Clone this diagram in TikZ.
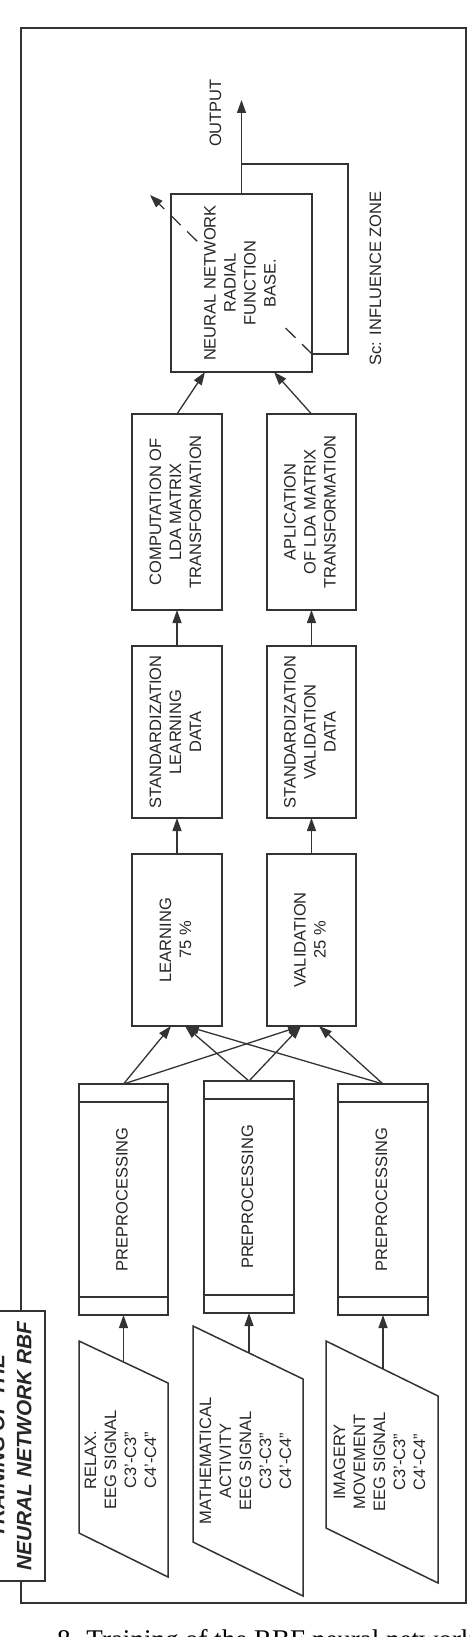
\documentclass[tikz,border=0pt]{standalone}
\usepackage{fontspec}
\setmainfont{Liberation Sans}
\newfontfamily\capfont{Liberation Serif}
\usepackage{graphicx}
\usetikzlibrary{calc,arrows.meta}
\newcommand{\vtext}[1]{\rotatebox{90}{\begin{tabular}{@{}c@{}}#1\end{tabular}}}
\tikzset{
  blk/.style={draw=black!80, line width=1.5pt, fill=white, outer sep=0pt, inner sep=0pt, text=black!85},
  arr/.style={draw=black!80, line width=1.3pt, -{Triangle[length=13pt,width=9pt]}},
  txt/.style={text=black!85, inner sep=0pt},
  edge/.style={draw=black!80, line width=1.5pt}
}

\begin{document}
\begin{tikzpicture}[x=1pt, y=-1pt, font=\fontsize{16.5}{20}\selectfont]
        \useasboundingbox (0,0) rectangle (469,1637);
        \clip (0,0) rectangle (469,1637);

        \draw[edge] (21,28) rectangle (466,1603);
        \node[blk, minimum width=65pt, minimum height=270pt, font=\bfseries\itshape\fontsize{20.8}{27}\selectfont] (title) at (12.5,1446) {\vtext{TRAINING OF THE\\NEURAL NETWORK RBF}};

        % input signals
        \draw[edge] (79,1341) -- (168,1383) -- (168,1577) -- (79,1533) -- cycle;
        \draw[edge] (193,1326) -- (303,1379) -- (303,1596) -- (193,1542) -- cycle;
        \draw[edge] (326,1341) -- (438,1396) -- (438,1583) -- (326,1528) -- cycle;
        \node[txt] (in1) at (122,1460) {\vtext{RELAX.\\EEG SIGNAL\\C3'-C3''\\C4'-C4''}};
        \node[txt] (in2) at (247,1461) {\vtext{MATHEMATICAL\\ACTIVITY\\EEG SIGNAL\\C3'-C3''\\C4'-C4''}};
        \node[txt] (in3) at (381,1462) {\vtext{IMAGERY\\MOVEMENT\\EEG SIGNAL\\C3'-C3''\\C4'-C4''}};
        \coordinate (s1) at (123.5,1362);
        \coordinate (s2) at (249,1352.5);
        \coordinate (s3) at (383,1369);

        \node[blk, minimum width=89pt, minimum height=231pt] (pre1) at (123.5,1199.5) {\vtext{PREPROCESSING}};
        \node[blk, minimum width=90pt, minimum height=232pt] (pre2) at (249,1197) {\vtext{PREPROCESSING}};
        \node[blk, minimum width=90pt, minimum height=231pt] (pre3) at (383,1199.5) {\vtext{PREPROCESSING}};
        \foreach \p in {pre1,pre2,pre3} {
          \draw[edge] ($(\p.north west)+(0,18)$) -- ($(\p.north east)+(0,18)$);
          \draw[edge] ($(\p.south west)+(0,-18)$) -- ($(\p.south east)+(0,-18)$);
        }

        \node[blk, minimum width=90pt, minimum height=172pt] (learn) at (177,940) {\vtext{LEARNING\\75 \%}};
        \node[blk, minimum width=89pt, minimum height=172pt] (valid) at (311.5,940) {\vtext{VALIDATION\\25 \%}};
        \node[blk, minimum width=90pt, minimum height=172pt] (stdl) at (177,732) {\vtext{STANDARDIZATION\\LEARNING\\DATA}};
        \node[blk, minimum width=89pt, minimum height=172pt] (stdv) at (311.5,732) {\vtext{STANDARDIZATION\\VALIDATION\\DATA}};
        \node[blk, minimum width=90pt, minimum height=196pt] (ldal) at (177,512) {\vtext{COMPUTATION OF\\LDA MATRIX\\TRANSFORMATION}};
        \node[blk, minimum width=89pt, minimum height=196pt] (ldav) at (311.5,512) {\vtext{APLICATION\\OF LDA MATRIX\\TRANSFORMATION}};
        \node[blk, minimum width=141pt, minimum height=178pt] (nn) at (241.5,283) {};

        \draw[arr] (s1) -- (pre1.south);
        \draw[arr] (s2) -- (pre2.south);
        \draw[arr] (s3) -- (pre3.south);

        \draw[arr] (pre1.north) -- ($(learn.south)+(-6,0)$);
        \draw[arr] (pre1.north) -- ($(valid.south)+(-10.5,0)$);
        \draw[arr] (pre2.north) -- ($(learn.south)+(8,0)$);
        \draw[arr] (pre2.north) -- ($(valid.south)+(-10.5,0)$);
        \draw[arr] (pre3.north) -- ($(learn.south)+(9,0)$);
        \draw[arr] (pre3.north) -- ($(valid.south)+(7.5,0)$);

        \draw[arr] (learn) -- (stdl);
        \draw[arr] (valid) -- (stdv);
        \draw[arr] (stdl) -- (ldal);
        \draw[arr] (stdv) -- (ldav);
        \draw[arr] (ldal.north) -- ($(nn.south)+(-36.5,0)$);
        \draw[arr] (ldav.north) -- ($(nn.south)+(32.5,0)$);

        \coordinate (out) at (241.5,100);
        \coordinate (fb) at (241.5,164);
        \coordinate (fbc) at (348,354);
        \coordinate (zone) at (150,195);
        \draw[arr] (nn.north) -- (out);
        \draw[edge] (fb) -| (fbc) -- (fbc -| nn.east);
        \draw[arr, dash pattern=on 14pt off 9pt] (fbc -| nn.east) -- (zone);
        \node[txt, fill=white, inner sep=1pt] (nnlbl) at (nn.center) {\vtext{NEURAL NETWORK\\RADIAL\\FUNCTION\\BASE.}};

        \node[txt] (outlbl) at (217,113) {\vtext{OUTPUT}};
        \node[txt] (zonelbl) at (377,278.5) {\vtext{Sc: INFLUENCE ZONE}};

        \node[anchor=base west, inner sep=0pt, font=\capfont\fontsize{27}{30}\selectfont] (caption) at (57,1648) {8. Training of the RBF neural network and};
    \end{tikzpicture}
\end{document}
